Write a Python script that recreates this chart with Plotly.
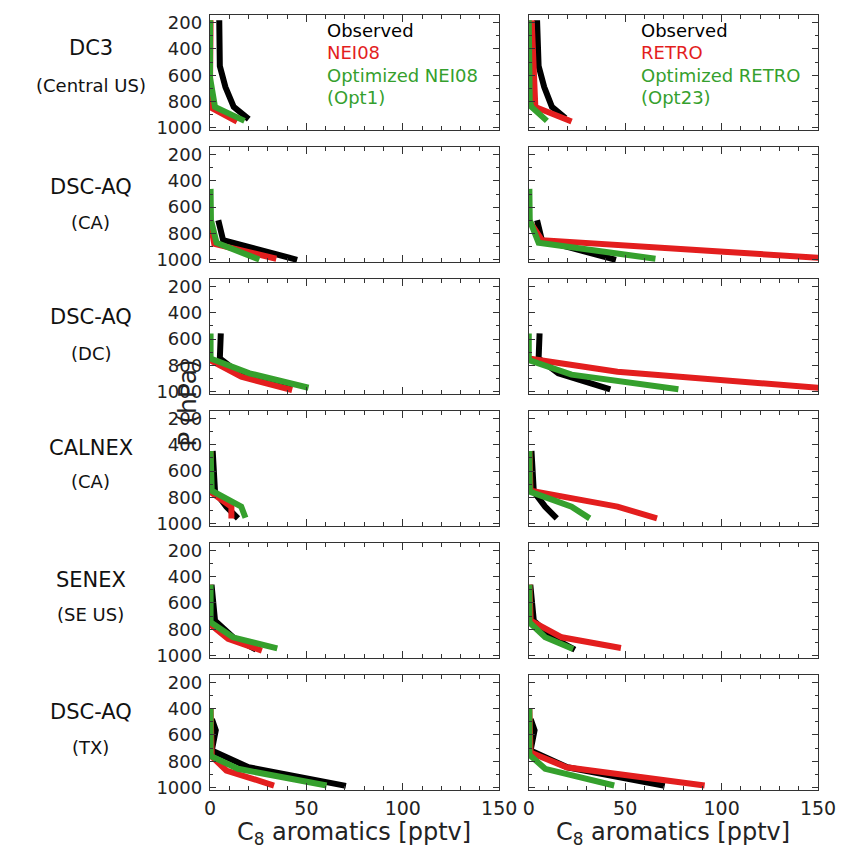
import plotly.graph_objects as go
from plotly.subplots import make_subplots

# Campaign labels (row titles)
campaigns = ["DC3", "DSC-AQ", "DSC-AQ", "CALNEX", "SENEX", "DSC-AQ"]
regions = ["(Central US)", "(CA)", "(DC)", "(CA)", "(SE US)", "(TX)"]

# Observed C8 aromatics profiles (pptv vs hPa), per campaign
obs_x = [
    [4.8, 5.1, 8.0, 12.3, 20.1],
    [4.3, 6.8, 45.2],
    [5.6, 5.1, 15.3, 42.3],
    [1.4, 2.6, 8.5, 14.5],
    [0.8, 2.6, 12.0, 23.9],
    [1.0, 3.0, 0.9, 20.0, 70.5],
]
obs_p = [
    [182, 530, 690, 841, 934],
    [699, 851, 1000],
    [557, 747, 860, 982],
    [448, 757, 871, 960],
    [461, 734, 861, 955],
    [480, 565, 719, 846, 988],
]
# Right column uses a slightly different observed end point for DC3
obs_x_right_dc3 = [4.3, 5.1, 8.0, 12.0, 19.0]
obs_p_right_dc3 = [182, 530, 690, 841, 925]

# NEI08 a priori
nei_x = [
    [0.3, 0.0, 1.0, 14.0],
    [0.0, 2.2, 34.4],
    [0.0, 16.2, 42.6],
    [0.3, 0.0, 11.1, 11.1],
    [0.0, 0.0, 9.4, 26.9],
    [0.3, 0.9, 8.5, 33.2],
]
nei_p = [
    [182, 700, 851, 952],
    [699, 879, 992],
    [760, 886, 987],
    [448, 757, 871, 960],
    [461, 760, 873, 962],
    [402, 764, 871, 985],
]
# Optimized NEI08 (Opt1)
opt1_x = [
    [0.0, 0.0, 2.6, 17.9],
    [0.3, 0.5, 3.4, 25.6],
    [0.3, 0.3, 20.5, 51.1],
    [0.3, 0.9, 16.2, 18.4],
    [0.3, 0.3, 11.9, 34.9],
    [0.3, 0.3, 14.5, 60.5],
]
opt1_p = [
    [182, 618, 841, 947],
    [461, 699, 871, 998],
    [557, 747, 860, 970],
    [448, 750, 871, 955],
    [461, 747, 861, 945],
    [402, 760, 858, 985],
]
# RETRO a priori
retro_x = [
    [1.5, 2.6, 3.4, 22.2],
    [0.0, 6.8, 164.0],
    [0.0, 46.0, 174.0],
    [0.3, 0.9, 46.0, 66.5],
    [0.3, 1.0, 17.1, 47.8],
    [0.3, 0.9, 19.6, 91.2],
]
retro_p = [
    [182, 618, 841, 952],
    [699, 851, 998],
    [747, 848, 998],
    [448, 750, 871, 960],
    [461, 734, 861, 942],
    [402, 735, 846, 985],
]
# Optimized RETRO (Opt23)
opt23_x = [
    [0.0, 0.5, 1.4, 9.4],
    [0.3, 0.5, 5.1, 65.7],
    [0.0, 0.0, 22.2, 77.6],
    [0.3, 0.5, 22.2, 31.6],
    [0.3, 0.3, 8.5, 23.0],
    [0.3, 0.3, 8.5, 44.3],
]
opt23_p = [
    [182, 795, 841, 947],
    [461, 699, 871, 992],
    [557, 760, 870, 982],
    [448, 757, 871, 960],
    [461, 747, 861, 950],
    [402, 750, 858, 985],
]

p_ticks = [200, 400, 600, 800, 1000]
x_ticks = [0, 50, 100, 150]

BLACK = "#000000"
RED = "#e31e1e"
GREEN = "#35a02d"
AX = "#333333"
FONT = "DejaVu Sans"

W, H = 848, 852
ML, MR, MT, MB = 210, 21, 14, 62
PW, PH = W - ML - MR, H - MT - MB

fig = make_subplots(rows=6, cols=2, horizontal_spacing=30 / PW,
                    vertical_spacing=16.6 / PH)

LW = 6
for i in range(6):
    r = i + 1
    ox_r = obs_x_right_dc3 if i == 0 else obs_x[i]
    op_r = obs_p_right_dc3 if i == 0 else obs_p[i]
    left = [(obs_x[i], obs_p[i], BLACK), (nei_x[i], nei_p[i], RED),
            (opt1_x[i], opt1_p[i], GREEN)]
    right = [(ox_r, op_r, BLACK), (retro_x[i], retro_p[i], RED),
             (opt23_x[i], opt23_p[i], GREEN)]
    for c, series in ((1, left), (2, right)):
        for xs, ps, col in series:
            fig.add_trace(go.Scatter(x=xs, y=ps, mode="lines",
                                     line=dict(color=col, width=LW),
                                     showlegend=False, hoverinfo="skip"),
                          row=r, col=c)

for i in range(6):
    r = i + 1
    for c in (1, 2):
        fig.update_xaxes(row=r, col=c, range=[0, 150], tickvals=x_ticks,
                         ticks="inside", ticklen=7, tickwidth=1.2, tickcolor=AX,
                         minor=dict(dtick=10, ticks="inside", ticklen=4,
                                    tickcolor=AX, tickwidth=1),
                         showline=True, linecolor=AX, linewidth=1.4,
                         mirror="allticks", showgrid=False, zeroline=False,
                         showticklabels=(r == 6), ticklabelstandoff=1,
                         tickfont=dict(family=FONT, size=19, color="#222"))
        fig.update_yaxes(row=r, col=c, range=[1019, 142], tickvals=p_ticks,
                         ticks="inside", ticklen=6, tickwidth=1.2, tickcolor=AX,
                         minor=dict(dtick=100, ticks="inside", ticklen=3,
                                    tickcolor=AX, tickwidth=1),
                         showline=True, linecolor=AX, linewidth=1.4,
                         mirror="allticks", showgrid=False, zeroline=False,
                         showticklabels=(c == 1), ticklabelstandoff=3,
                         tickfont=dict(family=FONT, size=18, color="#222"))


def px_x(x):
    return (x - ML) / PW


def px_y(y):
    return (H - MB - y) / PH


annotations = []
row_label_y = [(47, 85), (186, 222), (316, 353), (448, 481), (580, 614), (712, 747)]
for i in range(6):
    y1, y2 = row_label_y[i]
    annotations.append(dict(x=px_x(89), y=px_y(y1), text=campaigns[i],
                            font=dict(family=FONT, size=21, color="#111")))
    annotations.append(dict(x=px_x(89), y=px_y(y2), text=regions[i],
                            font=dict(family=FONT, size=18, color="#111")))

annotations.append(dict(x=px_x(187), y=px_y(402), text="P (hPa)", textangle=-90,
                        font=dict(family=FONT, size=25, color="#222")))

for cx in (356, 680):
    annotations.append(dict(x=px_x(cx), y=px_y(834),
                            text="C<sub>8</sub> aromatics [pptv]",
                            font=dict(family=FONT, size=24, color="#222")))

legend_left = [("Observed", BLACK), ("NEI08", RED), ("Optimized NEI08", GREEN),
               ("(Opt1)", GREEN)]
legend_right = [("Observed", BLACK), ("RETRO", RED), ("Optimized RETRO", GREEN),
                ("(Opt23)", GREEN)]
leg_y = [30, 52, 75, 97]
for items, lx in ((legend_left, 327), (legend_right, 645)):
    for (txt, col), ly in zip(items, leg_y):
        annotations.append(dict(x=px_x(lx), y=px_y(ly), text=txt, xanchor="left",
                                font=dict(family=FONT, size=18, color=col)))

for a in annotations:
    a.update(xref="paper", yref="paper", showarrow=False,
             yanchor=a.get("yanchor", "middle"))
    a.setdefault("xanchor", "center")

fig.update_layout(width=W, height=H, margin=dict(l=ML, r=MR, t=MT, b=MB),
                  plot_bgcolor="white", paper_bgcolor="white",
                  annotations=annotations, showlegend=False)

fig.write_html("out.html")
